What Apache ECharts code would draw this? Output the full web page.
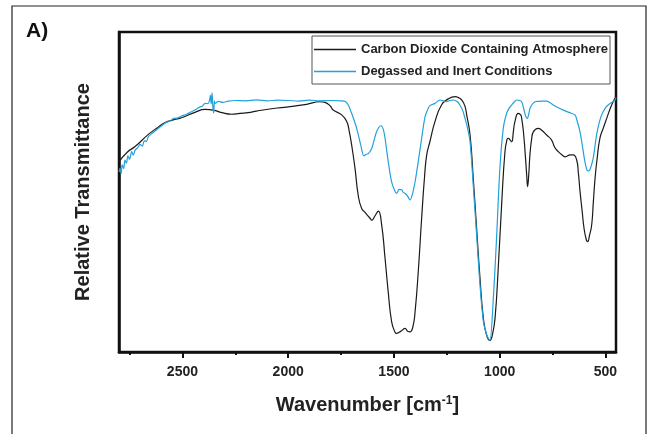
<!DOCTYPE html>
<html>
<head>
<meta charset="utf-8">
<script src="https://cdn.jsdelivr.net/npm/echarts@6.0.0/dist/echarts.min.js"></script>
<style>
  html, body { margin: 0; padding: 0; background: #fff; }
  #chart { width: 652px; height: 434px; }
</style>
</head>
<body>
<div id="chart"></div>
<script>
// tick values (wavenumber, cm-1)
var tickLabels = [500, 1000, 1500, 2000, 2500];
var minorTicks = [750, 1250, 1750, 2250, 2750];

// Carbon Dioxide Containing Atmosphere (black)
var co2Wn = [2800, 2760, 2724, 2661, 2620, 2582, 2540, 2504, 2441, 2393, 2354, 2314, 2267, 2228, 2189, 2150, 2070, 2000, 1913, 1850,
  1826, 1800, 1787, 1747, 1723, 1710, 1700, 1684, 1669, 1653, 1635, 1613, 1605, 1590, 1574, 1558, 1542, 1527, 1511, 1495,
  1487, 1475, 1463, 1448, 1435, 1424, 1410, 1400, 1385, 1369, 1355, 1345, 1330, 1306, 1275, 1243, 1211, 1195, 1180, 1165,
  1156, 1140, 1125, 1109, 1093, 1077, 1062, 1046, 1034, 1022, 1007, 990, 975, 965, 959, 950, 943, 935, 928, 912,
  900, 896, 888, 880, 872, 868, 862, 857, 849, 841, 818, 800, 778, 755, 740, 723, 700, 691, 665, 652,
  636, 628, 620, 610, 601, 590, 584, 575, 565, 557, 549, 540, 526, 510, 494, 475, 455, 450];
var co2T = [59.5, 62.5, 64.2, 68, 70, 71.7, 72.6, 73.2, 74.9, 75.8, 75.6, 74.8, 74.3, 74.6, 74.8, 75.3, 76.1, 76.6, 77.4, 78.2,
  78, 76.8, 75.6, 74.1, 72, 68.5, 64.7, 57.4, 49, 44.9, 43.5, 41.8, 41.2, 42.5, 44, 39.7, 29.3, 18.8, 9.5, 6.2,
  5.8, 6.2, 6.7, 7.4, 6.5, 6.3, 8, 12.6, 25.1, 41.8, 55, 61.6, 65.7, 72, 77.2, 79.1, 79.8, 79.5, 78.8, 77,
  74.1, 67.8, 54.3, 38.6, 23, 10.5, 5.3, 3.6, 5.5, 10.5, 26, 47, 62.6, 66.5, 66.8, 66.2, 65.7, 69, 72, 74.6,
  74, 73, 69, 62.6, 55, 51.7, 56, 61.6, 66.5, 68.8, 69.9, 69.2, 67.8, 66.3, 64, 62.6, 61.3, 61, 61.6, 61.6,
  60, 56, 50.1, 44, 38.6, 35, 34.5, 36.5, 39.7, 47, 54.3, 60, 66.8, 70, 73, 76.5, 79.3, 79.7];

// Degassed and Inert Conditions (blue)
var inertWn = [2800, 2795, 2790, 2785, 2778, 2772, 2765, 2758, 2750, 2740, 2732, 2724, 2712, 2700, 2690, 2680, 2670, 2661, 2640, 2620,
  2600, 2583, 2560, 2540, 2520, 2504, 2480, 2460, 2441, 2420, 2405, 2393, 2380, 2372, 2368, 2364, 2360, 2356, 2352, 2349,
  2346, 2330, 2310, 2283, 2250, 2200, 2150, 2100, 2050, 2000, 1950, 1900, 1850, 1800, 1750, 1730, 1716, 1700, 1676, 1657,
  1642, 1630, 1621, 1605, 1582, 1561, 1550, 1542, 1527, 1511, 1495, 1487, 1475, 1463, 1455, 1448, 1436, 1424, 1412, 1400,
  1385, 1369, 1353, 1340, 1330, 1306, 1282, 1265, 1251, 1235, 1219, 1200, 1188, 1175, 1164, 1152, 1140, 1125, 1109, 1093,
  1077, 1062, 1054, 1046, 1030, 1014, 999, 983, 967, 955, 943, 930, 920, 905, 896, 888, 883, 876, 869, 862,
  857, 845, 833, 800, 778, 760, 747, 725, 699, 670, 644, 632, 620, 608, 597, 587, 578, 568, 558, 550,
  542, 530, 518, 500, 487, 470, 455, 450];
var inertT = [56.2, 57.5, 55.8, 58.5, 57.3, 60, 59, 61.3, 60.2, 62.6, 61.5, 63.1, 63.8, 64.9, 64.3, 66, 65.8, 67.3, 68.5, 69.6,
  70.6, 71.5, 72.2, 73, 73.2, 73.75, 74.3, 75, 75.6, 76.5, 76.9, 77.7, 77.6, 78.6, 80.2, 77.5, 81, 76.5, 74.7, 78.5,
  77.7, 78.3, 78, 78.4, 78.6, 78.5, 78.8, 78.5, 78.7, 78.6, 78.4, 78.7, 78.5, 78.6, 78.5, 78.3, 77.2, 74.6, 69.9, 64.7,
  61.3, 61.8, 62, 63.6, 68.8, 70.7, 69.5, 66.8, 59.5, 53.2, 50.2, 49.6, 50.8, 50.6, 49.8, 49.6, 48.8, 47.5, 49.5, 53.2,
  59.5, 66.8, 73.5, 75.8, 77, 77.7, 78.75, 78.4, 78.2, 78.6, 78.75, 78.2, 77.2, 75.5, 73, 70, 65.7, 52.2, 36.6, 20.9,
  9.5, 5.5, 4.3, 3.7, 16.8, 36.6, 57.4, 69.9, 74.6, 76.2, 77.2, 78.2, 78.75, 78.6, 78.2, 76.5, 75.1, 73.5, 73, 74.5,
  76.1, 77.5, 78.2, 78.4, 78.4, 77.8, 77.2, 76.4, 75.6, 74.8, 74.1, 71.8, 68.8, 64, 59.5, 56.8, 56.6, 58, 60.5, 64,
  67.8, 71.5, 74.1, 76.3, 77.2, 78, 78.75, 79.5];

function pairs(xs, ys) {
  var out = [];
  for (var i = 0; i < xs.length; i++) {
    out.push([xs[i], ys[i]]);
  }
  return out;
}

var font = 'Liberation Sans, Arial, sans-serif';
var myChart = echarts.init(document.getElementById('chart'));
var option = {
  animation: false,
  title: {
    text: 'A)',
    left: 26,
    top: 21,
    padding: 0,
    textStyle: { fontSize: 21, fontWeight: 'bold', color: '#111', fontFamily: font }
  },
  graphic: [{
    type: 'rect',
    shape: { x: 12, y: 6, width: 634, height: 440 },
    style: { fill: 'none', stroke: '#222', lineWidth: 1.2 }
  }],
  legend: {
    data: ['Carbon Dioxide Containing Atmosphere', 'Degassed and Inert Conditions'],
    orient: 'vertical',
    left: 312,
    top: 36,
    icon: 'rect',
    itemWidth: 42,
    itemHeight: 1.5,
    itemGap: 7,
    padding: [6, 2, 5, 2],
    borderColor: '#555',
    borderWidth: 1,
    textStyle: { fontSize: 13, fontWeight: 'bold', color: '#222', fontFamily: font, lineHeight: 15 }
  },
  grid: {
    left: 119, right: 36, top: 32, bottom: 82,
    show: true,
    borderColor: '#111',
    borderWidth: 2.5
  },
  xAxis: [{
    type: 'value',
    inverse: true,
    min: 450,
    max: 2800,
    axisLine: { lineStyle: { color: '#111', width: 2.5 } },
    axisTick: { customValues: tickLabels, length: 6, lineStyle: { color: '#111', width: 2 } },
    axisLabel: {
      customValues: tickLabels, fontSize: 14, fontWeight: 'bold', color: '#222', margin: 13, fontFamily: font,
      formatter: function (v) { return String(v); }
    },
    splitLine: { show: false },
    name: 'Wavenumber [cm{sup|-1}]',
    nameLocation: 'middle',
    nameGap: 43,
    nameTextStyle: {
      fontSize: 20, fontWeight: 'bold', color: '#222', fontFamily: font,
      rich: { sup: { fontSize: 12, fontWeight: 'bold', color: '#222', fontFamily: font, verticalAlign: 'bottom', padding: [0, 0, 9, 0] } }
    }
  }, {
    type: 'value',
    inverse: true,
    min: 450,
    max: 2800,
    position: 'bottom',
    offset: 0,
    axisLine: { show: false },
    axisTick: { customValues: minorTicks, length: 3, lineStyle: { color: '#111', width: 2 } },
    axisLabel: { show: false },
    splitLine: { show: false }
  }],
  yAxis: {
    type: 'value',
    min: 0,
    max: 100,
    axisLine: { show: true, lineStyle: { color: '#111', width: 2.5 } },
    axisTick: { show: false },
    axisLabel: { show: false },
    splitLine: { show: false },
    name: 'Relative Transmittance',
    nameLocation: 'middle',
    nameGap: 26,
    nameTextStyle: { fontSize: 20, fontWeight: 'bold', color: '#222', fontFamily: font }
  },
  series: [{
    name: 'Carbon Dioxide Containing Atmosphere',
    type: 'line',
    data: pairs(co2Wn, co2T),
    symbol: 'none',
    smooth: 0.5,
    color: '#1a1a1a',
    lineStyle: { width: 1.2, color: '#1a1a1a' }
  }, {
    name: 'Degassed and Inert Conditions',
    type: 'line',
    data: pairs(inertWn, inertT),
    symbol: 'none',
    smooth: 0.3,
    color: '#22a1da',
    lineStyle: { width: 1.2, color: '#22a1da' }
  }]
};
myChart.setOption(option);
</script>
</body>
</html>
